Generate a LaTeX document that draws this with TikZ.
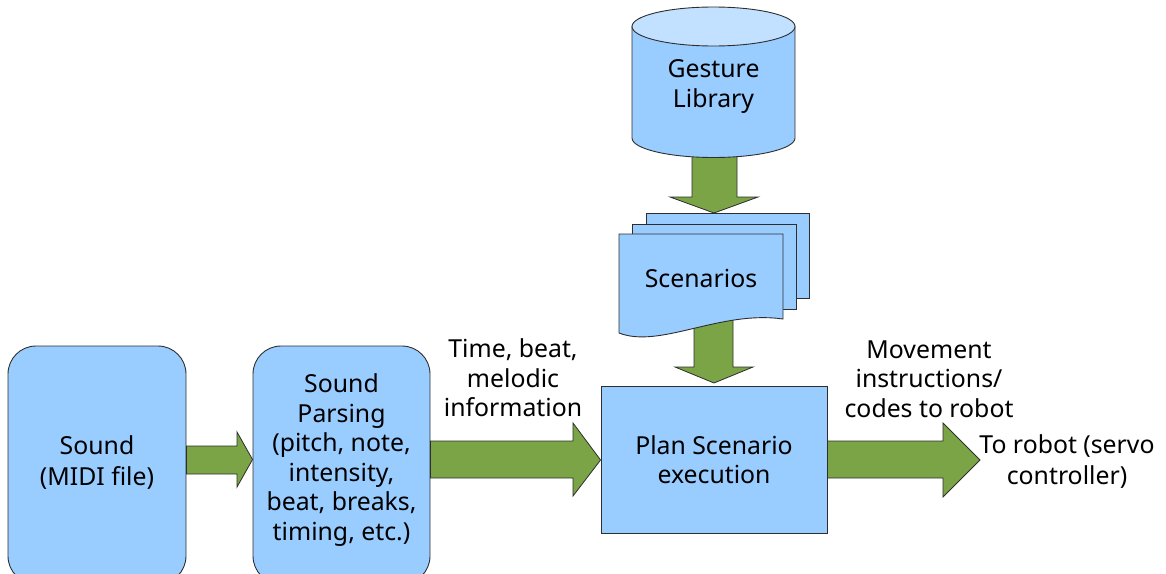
\documentclass[tikz,border=0pt]{standalone}
\usepackage{fontspec}
\setmainfont{Noto Sans}
\definecolor{boxblue}{HTML}{99CCFF}
\definecolor{topblue}{HTML}{C2E0FF}
\definecolor{arrgreen}{HTML}{7BA446}
\definecolor{edgegray}{HTML}{2E2E2E}
\begin{document}
\begin{tikzpicture}[x=1pt,y=-1pt,
  shapeline/.style={draw=edgegray,line width=0.9pt},
  bluebox/.style={shapeline,fill=boxblue,inner sep=0pt},
  roundbox/.style={bluebox,rounded corners=28pt},
  garrow/.style={draw=edgegray,line width=0.8pt,fill=arrgreen,line join=miter},
  txt/.style={inner sep=0pt,align=center,font=\fontsize{24.8}{29.5}\selectfont},
  txtwide/.style={txt,font=\fontsize{24.8}{31}\selectfont}]
\useasboundingbox (0,0) rectangle (1166,573);

% ---- boxes
\node[roundbox,minimum width=178pt,minimum height=238pt] (snd) at (97,465) {};
\node[txtwide] (sndt) at (97,462.5) {Sound\\(MIDI file)};
\node[roundbox,minimum width=177pt,minimum height=238pt] (par) at (341.5,465) {};
\node[txt] (part) at (341.5,459.8) {Sound\\Parsing\\(pitch, note,\\intensity,\\beat, breaks,\\timing, etc.)};
\node[bluebox,minimum width=226pt,minimum height=147pt,txt] (plan) at (714,459.5) {Plan Scenario\\execution};

% ---- down arrows (drawn first, partly hidden)
\coordinate (scntip) at (714,213);
\coordinate (plantip) at (714,383);
\draw[garrow] (692,150) -- (692,197) -- (670,197) -- (scntip) -- (758,197) -- (737,197) -- (737,150);
\draw[garrow] (694,320) -- (694,367) -- (675,367) -- (plantip) -- (753,367) -- (733,367) -- (733,320);

% ---- cylinder: Gesture Library
\draw[shapeline,fill=boxblue] (632,26.5) -- (632,138)
  arc[start angle=180,end angle=360,x radius=81.5pt,y radius=19.5pt]
  -- (795,26.5) -- cycle;
\draw[shapeline,fill=topblue] (713.5,26.5) ellipse[x radius=81.5pt,y radius=19.5pt];
\node[txt] (lib) at (713.5,86.5) {Gesture\\Library};

% ---- multi-document: Scenarios
\draw[shapeline,fill=boxblue] (646,213) rectangle (809,298);
\draw[shapeline,fill=boxblue] (632,224) rectangle (796,309);
\draw[shapeline,fill=boxblue] (619,234) -- (783,234) -- (783,319)
  .. controls (720,310) and (660,349) .. (619,333) -- cycle;
\node[txt] (scn) at (701,278) {Scenarios};

% ---- horizontal arrows
\draw[garrow] (snd.east |- 0,446) -- (237,446) -- (237,432) -- (par.west |- 0,459.5)
  -- (237,487) -- (237,474) -- (snd.east |- 0,474) -- cycle;
\draw[garrow] (par.east |- 0,441) -- (573,441) -- (573,423) -- (plan.west |- 0,460)
  -- (573,496) -- (573,478) -- (par.east |- 0,478) -- cycle;
\coordinate (robot) at (980,460);
\draw[garrow] (plan.east |- 0,441) -- (943,441) -- (943,423) -- (robot)
  -- (943,497) -- (943,478) -- (plan.east |- 0,478) -- cycle;

% ---- labels
\node[txt] (lab1) at (513,378) {Time, beat,\\melodic\\information};
\node[txt] (lab2) at (929,379) {Movement\\instructions/\\codes to robot};
\node[txtwide] (lab3) at (1067,462) {To robot (servo\\controller)};
\end{tikzpicture}
\end{document}
